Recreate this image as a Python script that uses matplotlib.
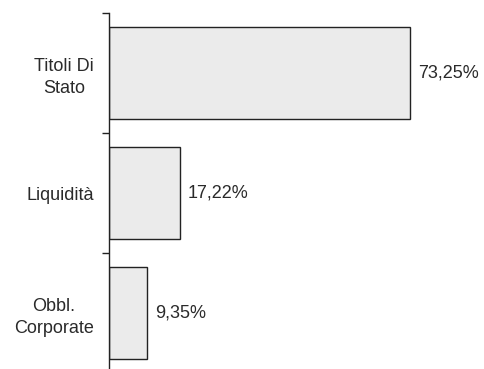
import matplotlib
matplotlib.use("Agg")
import matplotlib.pyplot as plt

categories = ["Titoli Di\nStato", "Liquidità", "Obbl.\nCorporate"]
values = [73.25, 17.22, 9.35]
labels = ["73,25%", "17,22%", "9,35%"]

plt.rcParams['font.family'] = ['Liberation Sans', 'DejaVu Sans']

W, H = 485, 369
fig = plt.figure(figsize=(W / 100, H / 100), dpi=100)
# axes: x from 109px to 485px, y from 13px (top) to 373px (bottom)
left, right = 109 / W, 485 / W
top, bottom = 1 - 13 / H, 1 - 373 / H
ax = fig.add_axes([left, bottom, right - left, top - bottom])

ypos = list(range(len(categories)))
ax.barh(ypos, values, height=0.77, color="#ebebeb", edgecolor="#222222", linewidth=1.0)
ax.set_ylim(2.5, -0.5)
ax.set_xlim(0, 376 / (301 / 73.25))

for y, v, lab in zip(ypos, values, labels):
    ax.text(v + 1.9, y, lab, va="center", ha="left", fontsize=13, color="#2a2a2a")

ax.set_yticks(ypos)
ax.set_yticklabels(categories, fontsize=13, color="#2a2a2a", multialignment="center", linespacing=1.4)
ax.tick_params(axis="y", which="major", length=0, pad=11)
ax.set_yticks([-0.5, 0.5, 1.5, 2.5], minor=True)
ax.tick_params(axis="y", which="minor", length=5, width=1, color="#222222")
ax.set_xticks([])
for s in ["top", "right", "bottom"]:
    ax.spines[s].set_visible(False)
ax.spines["left"].set_color("#222222")
ax.spines["left"].set_linewidth(1.0)

fig.savefig("out.png", dpi=100)
